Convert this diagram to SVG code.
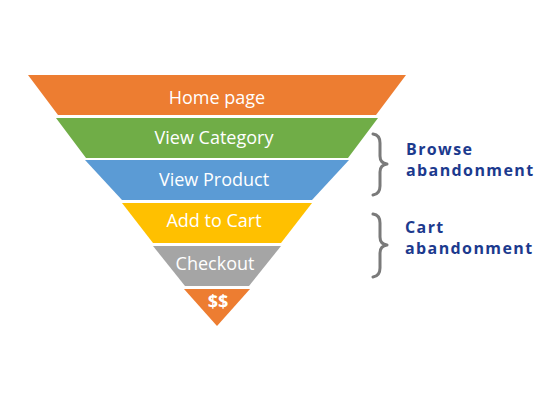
<svg xmlns="http://www.w3.org/2000/svg" width="548" height="400" viewBox="0 0 548 400">
<style>
.lbl{font-family:"Open Sans","Liberation Sans",sans-serif;font-size:18px;fill:#fff;text-anchor:middle}
.side{font-family:"Open Sans","Liberation Sans",sans-serif;font-size:16px;font-weight:bold;fill:#1c3a8e;letter-spacing:1.4px}
.brace{fill:none;stroke:#7a7a7a;stroke-width:3;stroke-linecap:round;stroke-linejoin:round}
</style>
<rect width="548" height="400" fill="#fff"/>
<g id="home"><polygon points="28,75 406,75 376,115 58,115" fill="#ED7D31"/><text class="lbl" x="217" y="104">Home page</text></g>
<g id="category"><polygon points="56,118 378,118 348,158 86,158" fill="#70AD47"/><text class="lbl" x="214" y="144">View Category</text></g>
<g id="product"><polygon points="85,160 349,160 312,200 122,200" fill="#5B9BD5"/><text class="lbl" x="214" y="186">View Product</text></g>
<g id="cart"><polygon points="122,203 312,203 281,243 153,243" fill="#FFC000"/><text class="lbl" x="214" y="227">Add to Cart</text></g>
<g id="checkout"><polygon points="153,246 281,246 249,286 185,286" fill="#A5A5A5"/><text class="lbl" x="215" y="270">Checkout</text></g>
<g id="money"><polygon points="184,289 250,289 217,326" fill="#ED7D31"/><text class="lbl" x="218" y="308" style="font-weight:bold">$$</text></g>
<g id="browse">
<path class="brace" d="M373,134 Q380,135 380,143 L380,156 Q380,163 387,164 Q380,165 380,172 L380,186 Q380,194 373,195"/>
<text class="side" x="406" y="155">Browse</text><text class="side" x="406" y="176">abandonment</text>
</g>
<g id="cartab">
<path class="brace" d="M373,214 Q380,215 380,223 L380,237 Q380,244 387,245 Q380,246 380,253 L380,268 Q380,276 373,277"/>
<text class="side" x="405" y="233">Cart</text><text class="side" x="405" y="254">abandonment</text>
</g>
</svg>
